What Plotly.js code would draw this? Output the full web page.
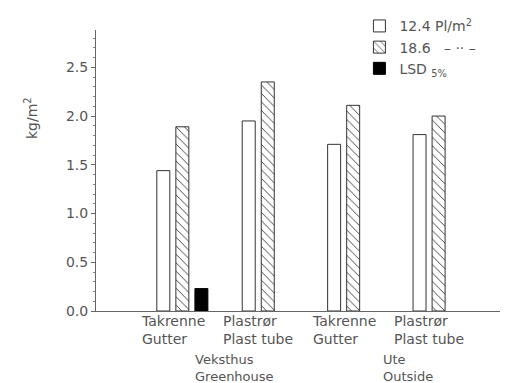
<!DOCTYPE html>
<html>
<head>
<meta charset="utf-8">
<script src="https://cdn.plot.ly/plotly-3.0.1.min.js"></script>
<style>html,body{margin:0;padding:0;background:#fff;}#chart{width:507px;height:383px;}</style>
</head>
<body>
<div id="chart"></div>
<script>
// ---- data ----
var categories = ["GH-Takrenne", "GH-Plastror", "UTE-Takrenne", "UTE-Plastror"];
var tickLabels = ["Takrenne<br>Gutter", "Plastrør<br>Plast tube", "Takrenne<br>Gutter", "Plastrør<br>Plast tube"];
var groupLabels = ["Veksthus<br>Greenhouse", "Ute<br>Outside"];
var density124 = [1.44, 1.95, 1.71, 1.81];
var density186 = [1.89, 2.35, 2.11, 2.00];
var lsdCategory = ["GH-Takrenne"];
var lsdValue = [0.23];
var seriesNames = ["12.4 Pl/m<sup>2</sup>", "18.6 &nbsp;&nbsp;– ·· –", "LSD <sub>5%</sub>"];

var ink = "#333";
var textColor = "#555";
var fontFam = "DejaVu Sans, sans-serif";
var bw = 0.152;

var traces = [
  {type: "bar", x: categories, y: density124, name: seriesNames[0],
   width: bw, offset: -0.188,
   marker: {color: "#fff", line: {color: ink, width: 1}}},
  {type: "bar", x: categories, y: density186, name: seriesNames[1],
   width: bw, offset: 0.035,
   marker: {color: "#fff", line: {color: ink, width: 1},
            pattern: {shape: "\\", fgcolor: ink, bgcolor: "#fff", size: 6, solidity: 0.15}}},
  {type: "bar", x: lsdCategory, y: lsdValue, name: seriesNames[2],
   width: bw, offset: 0.258,
   marker: {color: "#000", line: {color: "#000", width: 1}}}
];

var annotations = [];
for (var i = 0; i < categories.length; i++) {
  annotations.push({xref: "x", yref: "paper", x: categories[i], y: 0, yanchor: "top", yshift: 0,
    text: tickLabels[i], showarrow: false, align: "left",
    font: {family: fontFam, size: 14, color: textColor}});
}
annotations.push({xref: "x", yref: "paper", x: 0.72, y: 0, yanchor: "top", yshift: -39,
  text: groupLabels[0], showarrow: false, align: "left", font: {family: fontFam, size: 13, color: textColor}});
annotations.push({xref: "x", yref: "paper", x: 2.75, y: 0, yanchor: "top", yshift: -39,
  text: groupLabels[1], showarrow: false, align: "left", font: {family: fontFam, size: 13, color: textColor}});
annotations.push({xref: "paper", yref: "y", x: 0, xshift: -76, y: 1.98, textangle: -90,
  text: "kg/m<sup>2</sup>", showarrow: false, font: {family: fontFam, size: 14, color: textColor}});

var layout = {
  width: 507, height: 383,
  margin: {l: 96, r: 7, t: 30, b: 72},
  paper_bgcolor: "#fff", plot_bgcolor: "#fff",
  barmode: "overlay",
  showlegend: true,
  legend: {x: 0.652, xanchor: "left", y: 1.07, yanchor: "top", bgcolor: "rgba(0,0,0,0)",
           font: {family: fontFam, size: 14, color: textColor}, tracegroupgap: 0},
  xaxis: {type: "category", range: [-0.9, 3.83], showticklabels: false, ticks: "",
          showgrid: false, zeroline: false, showline: true, linecolor: "#666", linewidth: 1},
  yaxis: {range: [0, 2.883], dtick: 0.5, tickformat: ".1f", ticks: "outside", ticklen: 4,
          tickcolor: "#666", showgrid: false, zeroline: false, showline: true, linecolor: "#666",
          linewidth: 1, tickfont: {family: fontFam, size: 14, color: textColor},
          minor: {dtick: 0.1, ticks: "outside", ticklen: 2, tickcolor: "#888", showgrid: false}},
  annotations: annotations,
  font: {family: fontFam, color: textColor}
};

Plotly.newPlot("chart", traces, layout, {displayModeBar: false, staticPlot: true});
</script>
</body>
</html>
